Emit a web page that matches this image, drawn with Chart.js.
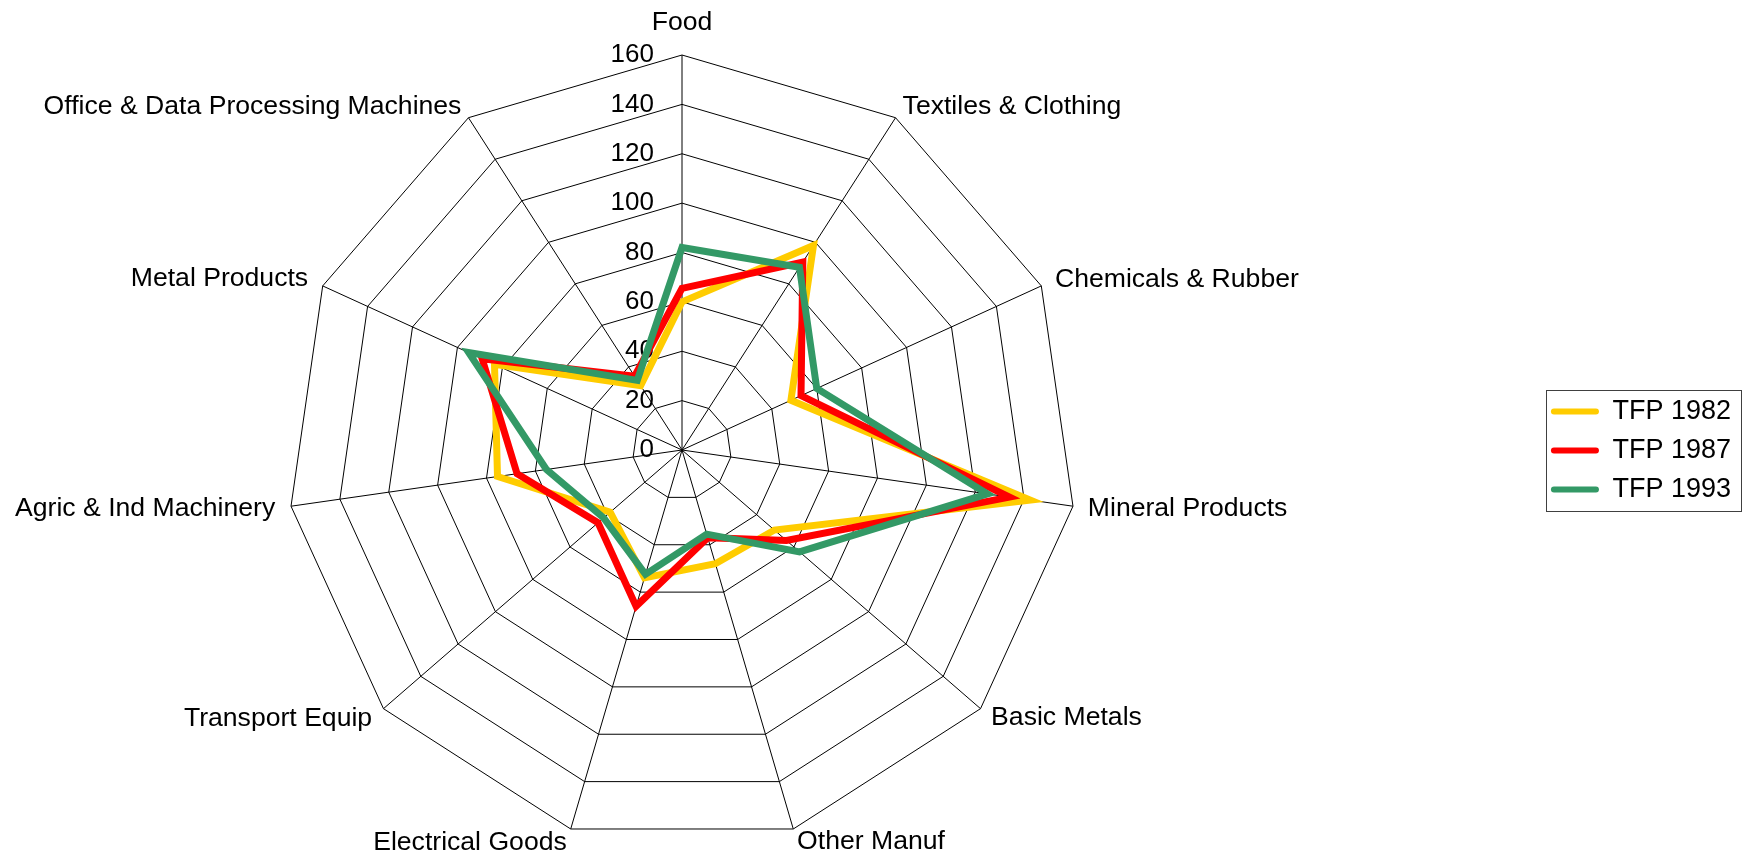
<!DOCTYPE html>
<html>
<head>
<meta charset="utf-8">
<script src="https://cdn.jsdelivr.net/npm/chart.js@4.4.1/dist/chart.umd.min.js"></script>
<style>
  html, body { margin: 0; padding: 0; background: #fff; }
</style>
</head>
<body>
<canvas id="tfpRadar" width="1746" height="858"></canvas>
<script>
// sectores (en el orden del gráfico, empezando arriba y en sentido horario)
const categorias = [
    'Food',
    'Textiles & Clothing',
    'Chemicals & Rubber',
    'Mineral Products',
    'Basic Metals',
    'Other Manuf',
    'Electrical Goods',
    'Transport Equip',
    'Agric & Ind Machinery',
    'Metal Products',
    'Office & Data Processing Machines'
];
const tfp1982 = [60, 98.5, 48.5, 142.5, 49.5, 48, 54, 38.5, 75.5, 83.5, 31];
const tfp1987 = [65.5, 90.5, 53, 134, 56, 37, 66, 45, 67.5, 89, 35.5];
const tfp1993 = [82, 88, 60, 125, 63, 35.5, 52.5, 42, 55.5, 95, 33.5];
const ticks = [0, 20, 40, 60, 80, 100, 120, 140, 160];

// geometría del radar (píxeles)
const CENTRO_X = 682;
const CENTRO_Y = 450;
const RADIO = 395;
const separacionEtiquetas = [32, 13, 15, 15, 14, 13.5, 14, 15, 16, 16, 13];

const FUENTE = '"Liberation Sans", Arial, sans-serif';
Chart.defaults.font.family = FUENTE;
Chart.defaults.color = '#000';

// etiquetas de los ticks alineadas a la derecha del eje
const etiquetasTicks = {
    id: 'etiquetasTicks',
    beforeDatasetsDraw(chart) {
        const scale = chart.scales.r;
        const ctx = chart.ctx;
        ctx.save();
        ctx.font = '26px ' + FUENTE;
        ctx.fillStyle = '#000';
        ctx.textAlign = 'right';
        ctx.textBaseline = 'middle';
        ticks.forEach(v => {
            const d = scale.getDistanceFromCenterForValue(v);
            ctx.fillText(String(v), scale.xCenter - 28, scale.yCenter - d);
        });
        ctx.restore();
    }
};

// marco de la leyenda
const marcoLeyenda = {
    id: 'marcoLeyenda',
    afterDraw(chart) {
        const boxes = chart.legend && chart.legend.legendHitBoxes;
        if (!boxes || !boxes.length) return;
        const left = Math.min(...boxes.map(b => b.left)) - 5;
        const right = Math.max(...boxes.map(b => b.left + b.width)) + 10;
        const top = boxes[0].top - 8;
        const last = boxes[boxes.length - 1];
        const bottom = last.top + last.height + 8;
        const ctx = chart.ctx;
        ctx.save();
        ctx.strokeStyle = '#404040';
        ctx.lineWidth = 1;
        ctx.strokeRect(Math.round(left) + 0.5, Math.round(top) + 0.5,
            Math.round(right - left), Math.round(bottom - top));
        ctx.restore();
    }
};

const ctx = document.getElementById('tfpRadar').getContext('2d');
new Chart(ctx, {
    type: 'radar',
    data: {
        labels: categorias,
        datasets: [{
            label: 'TFP 1982',
            data: tfp1982,
            borderColor: '#FFCC00',
            backgroundColor: '#FFCC00',
            order: 2
        }, {
            label: 'TFP 1987',
            data: tfp1987,
            borderColor: '#FF0000',
            backgroundColor: '#FF0000',
            order: 1
        }, {
            label: 'TFP 1993',
            data: tfp1993,
            borderColor: '#339966',
            backgroundColor: '#339966',
            order: 0
        }]
    },
    options: {
        responsive: false,
        animation: false,
        layout: {
            padding: { top: 43, right: 5, bottom: 0, left: 0 }
        },
        elements: {
            line: {
                borderWidth: 7,
                borderJoinStyle: 'miter',
                fill: false,
                tension: 0
            },
            point: { radius: 0, hoverRadius: 0 }
        },
        scales: {
            r: {
                min: 0,
                max: 160,
                beginAtZero: true,
                ticks: { stepSize: 20, display: false },
                grid: { color: '#000', lineWidth: 1, circular: false },
                angleLines: { color: '#000', lineWidth: 1 },
                pointLabels: {
                    color: '#000',
                    font: { size: 26.6, lineHeight: 0.01 },
                    padding: (c) => separacionEtiquetas[c.index]
                },
                // fija el centro y el radio del radar, moviendo las etiquetas con él
                afterFit: (scale) => {
                    const oldX = scale.xCenter, oldY = scale.yCenter, oldR = scale.drawingArea;
                    const dirs = categorias.map((_, i) => {
                        const p = scale.getPointPosition(i, 1);
                        return { x: p.x - oldX, y: p.y - oldY };
                    });
                    scale.xCenter = CENTRO_X;
                    scale.yCenter = CENTRO_Y;
                    scale.drawingArea = RADIO;
                    (scale._pointLabelItems || []).forEach((item, i) => {
                        const dx = CENTRO_X - oldX + (RADIO - oldR) * dirs[i].x;
                        const dy = CENTRO_Y - oldY + (RADIO - oldR) * dirs[i].y;
                        item.x += dx; item.left += dx; item.right += dx;
                        item.y += dy; item.top += dy; item.bottom += dy;
                    });
                }
            }
        },
        plugins: {
            legend: {
                position: 'right',
                labels: {
                    font: { size: 27 },
                    color: '#000',
                    boxWidth: 48,
                    boxHeight: 6,
                    padding: 12,
                    sort: (a, b) => a.datasetIndex - b.datasetIndex,
                    generateLabels: (chart) =>
                        Chart.defaults.plugins.legend.labels.generateLabels(chart)
                            .map(item => Object.assign(item, { lineWidth: 0, borderRadius: 3 }))
                }
            },
            tooltip: { enabled: false }
        }
    },
    plugins: [etiquetasTicks, marcoLeyenda]
});
</script>
</body>
</html>
